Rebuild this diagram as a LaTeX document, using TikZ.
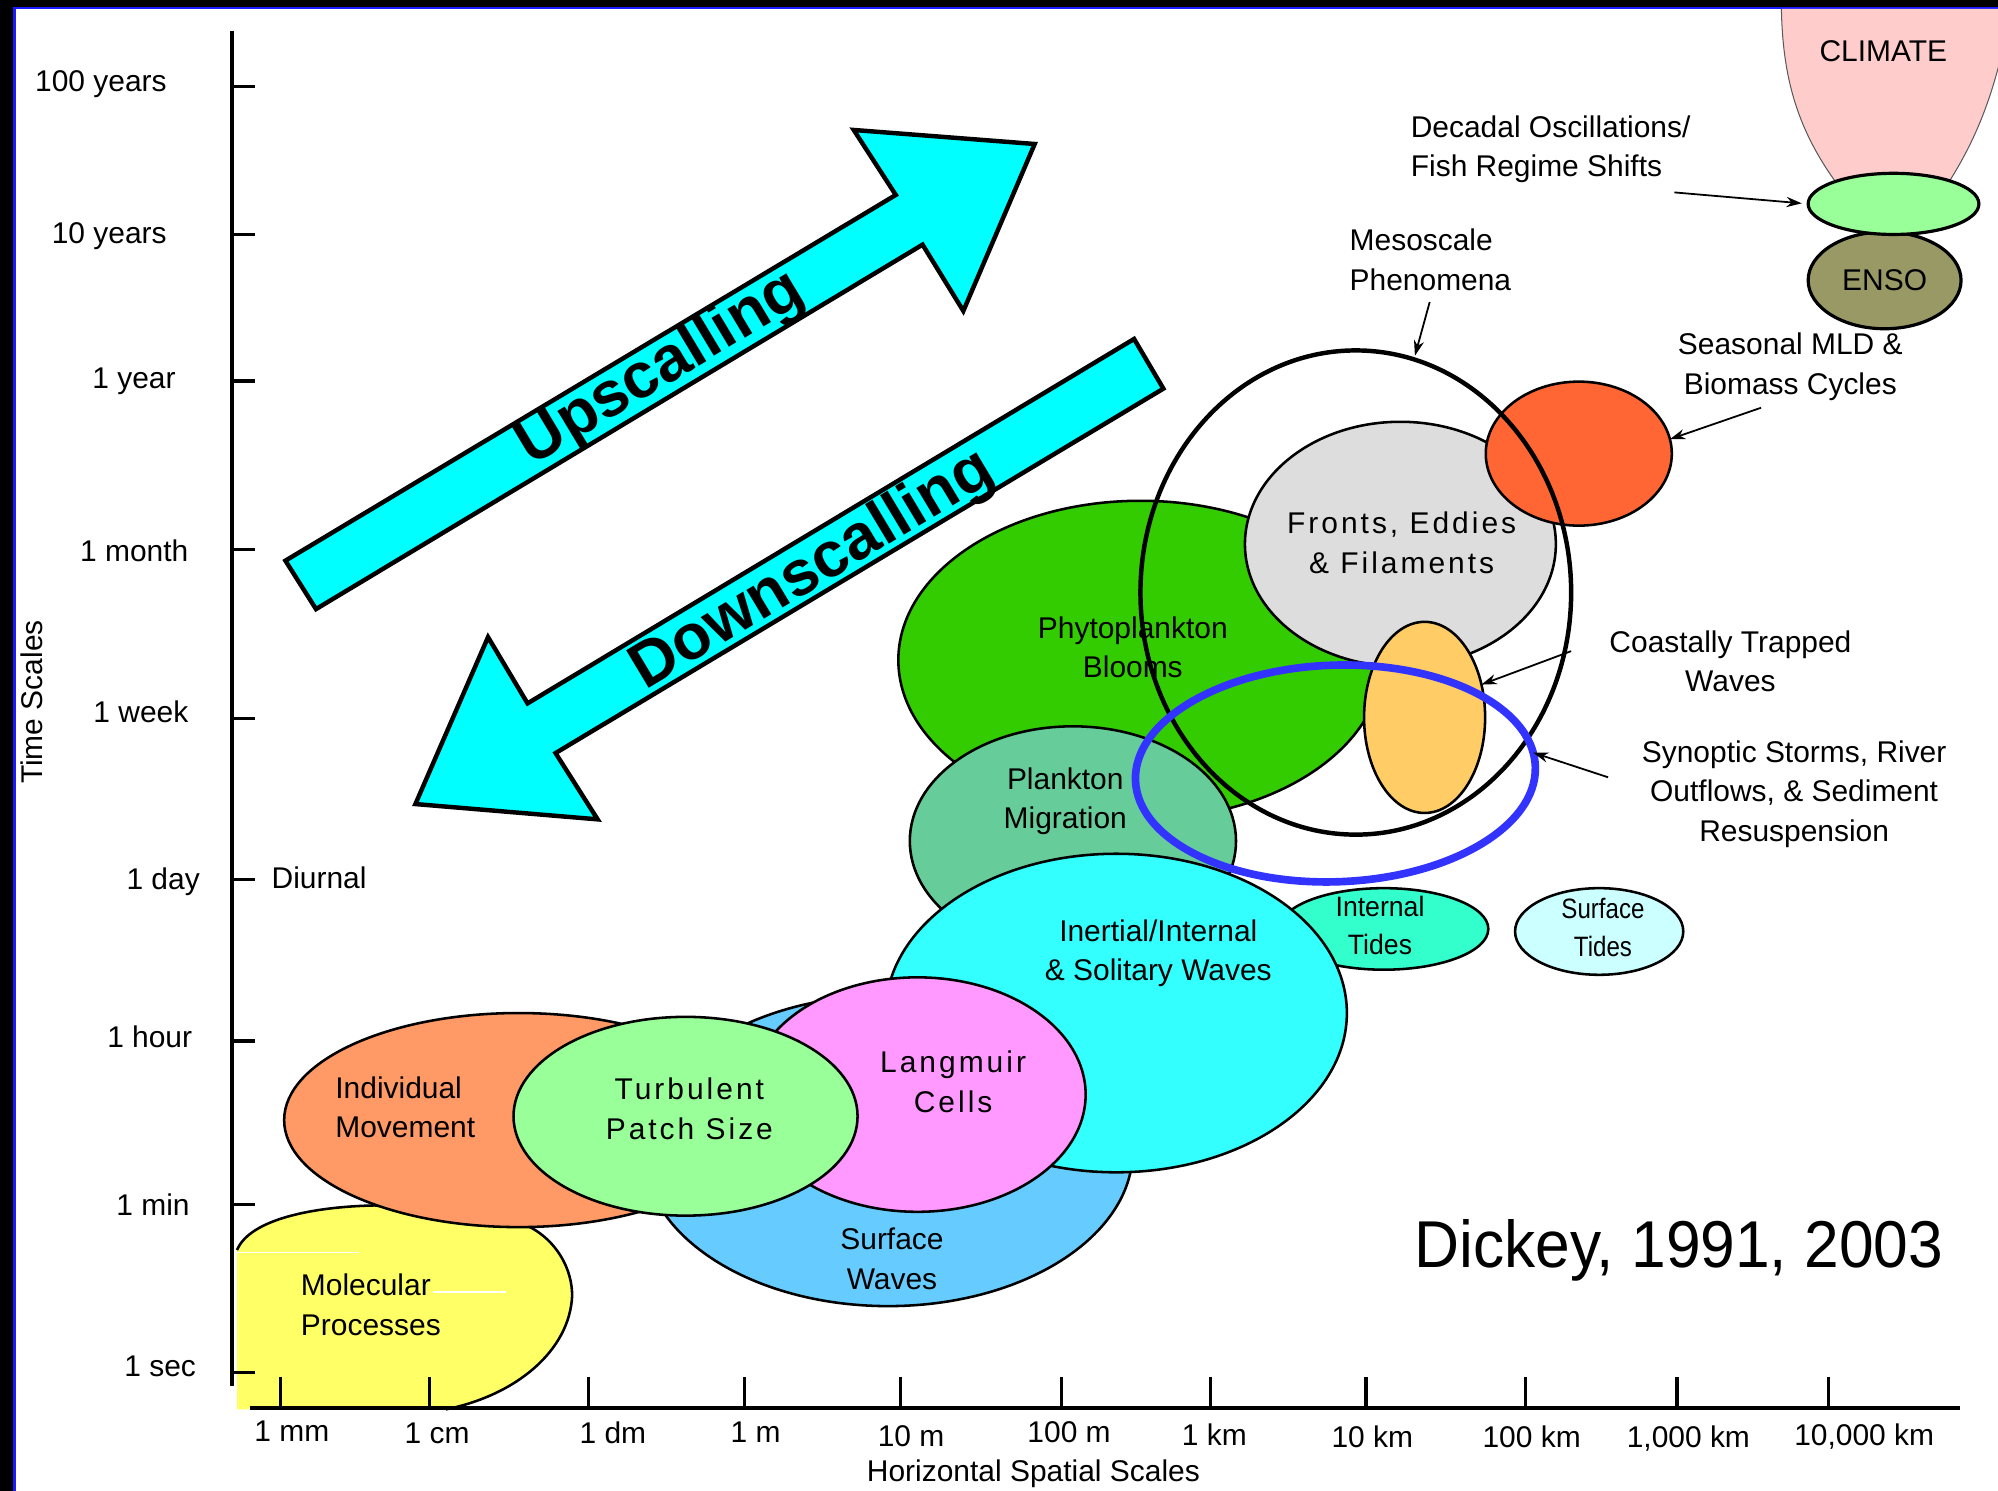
\documentclass[tikz,border=0pt]{standalone}
\usepackage{fontspec}
\setmainfont{Liberation Sans}
\newfontfamily\spacedfont[LetterSpace=10]{Liberation Sans}
\usetikzlibrary{shapes.geometric,arrows.meta}
\definecolor{cYel}{HTML}{FFFF66}
\definecolor{cInd}{HTML}{FF9966}
\definecolor{cTurb}{HTML}{99FF99}
\definecolor{cLang}{HTML}{FF99FF}
\definecolor{cSW}{HTML}{66CCFF}
\definecolor{cIner}{HTML}{33FFFF}
\definecolor{cMig}{HTML}{66CC99}
\definecolor{cPhy}{HTML}{33CC00}
\definecolor{cFront}{HTML}{DDDDDD}
\definecolor{cSeas}{HTML}{FF6633}
\definecolor{cCoast}{HTML}{FFCC66}
\definecolor{cRing}{HTML}{3333FF}
\definecolor{cIT}{HTML}{33FFCC}
\definecolor{cST}{HTML}{CCFFFF}
\definecolor{cClim}{HTML}{FFCCCC}
\definecolor{cEnso}{HTML}{999966}
\definecolor{cArr}{HTML}{00FFFF}
\definecolor{cFrame}{HTML}{1A1AFF}
\begin{document}
\begin{tikzpicture}[x=1pt,y=-1pt,
  blob/.style={ellipse, draw=black, line width=2pt, inner sep=0pt, outer sep=0pt},
  txt/.style={font=\fontsize{23.5}{31}\selectfont, align=center, inner sep=0pt},
  ltxt/.style={txt, align=left},
  sptxt/.style={font=\spacedfont\fontsize{23.5}{31}\selectfont, align=center, inner sep=0pt},
  ticktxt/.style={font=\fontsize{23.5}{31}\selectfont, inner sep=0pt},
  tickline/.style={line width=2.5pt},
  axisline/.style={line width=2.8pt},
  bigarrow/.style={fill=cArr, draw=black, line width=3.5pt, line join=miter},
  arrtxt/.style={font=\bfseries\fontsize{50}{50}\selectfont, inner sep=0pt},
  callout/.style={line width=1.4pt, -{Stealth[length=12pt,width=8pt]}}]
\fill[white] (0,0) rectangle (1568,1170);
\useasboundingbox (0,0) rectangle (1568,1170);
% frame
\fill[black] (0,0) rectangle (10.5,1170);
\fill[black] (0,0) rectangle (1568,5.3);
\fill[cFrame] (10.5,5.3) rectangle (12.3,1170);
\fill[cFrame] (10.5,5.3) rectangle (1568,7);

% CLIMATE
\fill[cClim] (1398,7) .. controls (1399,60) and (1410,100) .. (1440,142) -- (1530,142) .. controls (1550,110) and (1562,80) .. (1572,38) -- (1572,7) -- cycle;
\draw[line width=0.8pt, black!65] (1398,7) .. controls (1399,60) and (1410,100) .. (1440,142);
\draw[line width=0.8pt, black!65] (1530,142) .. controls (1550,110) and (1562,80) .. (1572,38);
\node[txt] (climate) at (1478,40) {CLIMATE};
\node[blob, fill=cEnso, line width=2.5pt, minimum width=120pt, minimum height=76pt, font=\fontsize{23.5}{31}\selectfont] (enso) at (1479,220) {ENSO};
\node[blob, fill=cTurb, line width=2.5pt, minimum width=134pt, minimum height=48pt] (decadal) at (1486,160) {};

% Molecular processes
\fill[cYel] (186,1106) -- (186,981) .. controls (196,957) and (245,947) .. (294,946) -- (403,958) .. controls (430,965) and (449,990) .. (449,1017) .. controls (447,1060) and (405,1095) .. (350,1106) -- cycle;
\draw[line width=2pt] (186,981) .. controls (196,957) and (245,947) .. (294,946) -- (403,958) .. controls (430,965) and (449,990) .. (449,1017) .. controls (447,1060) and (405,1095) .. (350,1106);
\draw[white, line width=1pt] (186,983) -- (282,983);
\draw[white, line width=1pt] (340,1014) -- (397,1014);

% ellipses
\node[blob, fill=cIT, minimum width=164pt, minimum height=64pt] (itides) at (1086,729) {};
\node[blob, fill=cST, minimum width=132pt, minimum height=68pt] (stides) at (1255,731) {};
\node[blob, fill=cPhy, minimum width=380pt, minimum height=250pt] (phyto) at (895,518) {};
\node[blob, fill=cFront, minimum width=244pt, minimum height=192pt] (fronts) at (1099,427) {};
\node[blob, fill=cSeas, minimum width=146pt, minimum height=113pt] (seas) at (1239,356) {};
\node[blob, fill=cCoast, minimum width=95pt, minimum height=150pt] (coast) at (1118,563) {};
\node[blob, fill=cMig, minimum width=256pt, minimum height=180pt] (migr) at (842,660) {};
\node[blob, fill=cSW, minimum width=384pt, minimum height=244pt] (swaves) at (697,903) {};
\node[blob, fill=cIner, minimum width=362pt, minimum height=250pt] (inert) at (876,795) {};
\node[blob, fill=cLang, minimum width=264pt, minimum height=184pt] (lang) at (720,859) {};
\node[blob, fill=cInd, minimum width=368pt, minimum height=168pt] (indiv) at (407,879) {};
\node[blob, fill=cTurb, minimum width=270pt, minimum height=156pt] (turb) at (538,876) {};

% labels inside
\node[ltxt, anchor=west] (molt) at (236,1024) {Molecular\\Processes};
\node[ltxt, anchor=west] (indt) at (263,869) {Individual\\Movement};
\node[sptxt] (turbt) at (541,870) {Turbulent\\Patch Size};
\node[sptxt] (langt) at (748,849) {Langmuir\\Cells};
\node[txt] (swt) at (700,988) {Surface\\Waves};
\node[txt] (inertt) at (909,748) {Inertial/Internal\\\& Solitary Waves};
\node[txt] (migt) at (836,629) {Plankton\\Migration};
\node[txt] (phytot) at (889,508) {Phytoplankton\\Blooms};
\node[sptxt] (frontt) at (1100,426) {Fronts, Eddies\\\& Filaments};
\node[txt, font=\fontsize{22}{30}\selectfont, xscale=0.95] (itt) at (1083,726) {Internal\\Tides};
\node[txt, font=\fontsize{22}{30}\selectfont, xscale=0.86] (stt) at (1258,728) {Surface\\Tides};

% mesoscale and synoptic rings
\node[ellipse, draw=black, line width=3.5pt, inner sep=0pt, outer sep=0pt, minimum width=338pt, minimum height=380pt] (meso) at (1064,465) {};
\node[ellipse, draw=cRing, line width=6pt, inner sep=0pt, outer sep=0pt, minimum width=314pt, minimum height=170pt, rotate=2] (ring) at (1048,607) {};

% callout labels
\node[ltxt, anchor=west] (dect) at (1107,117) {Decadal Oscillations/\\Fish Regime Shifts};
\node[ltxt, anchor=west] (mesot) at (1059,204) {Mesoscale\\Phenomena};
\node[txt] (seast) at (1405,288) {Seasonal MLD \&\\Biomass Cycles};
\node[txt] (coastt) at (1358,519) {Coastally Trapped\\Waves};
\node[txt] (synt) at (1408,623) {Synoptic Storms, River\\Outflows, \& Sediment\\Resuspension};
\coordinate (decA) at (1314,151);
\coordinate (mesoA) at (1122,237);
\coordinate (seasA) at (1382,320);
\coordinate (coastA) at (1233,511);
\coordinate (synA) at (1262,610);
\draw[callout, shorten >=5pt] (decA) -- (decadal.west);
\draw[callout, shorten >=3pt] (mesoA) -- (meso.76);
\draw[callout] (seasA) -- (seas.9);
\draw[callout] (coastA) -- (coast.30);
\draw[callout] (synA) -- (ring.4);

% big arrows
\draw[bigarrow] (224,440) -- (703,153) -- (670,102) -- (812,113) -- (756,244) -- (724,192) -- (248,478) -- cycle;
\node[arrtxt, rotate=31] (upt) at (519,290) {Upscalling};
\draw[bigarrow] (890,266) -- (913,305) -- (436,591) -- (469,643) -- (326,631) -- (383,500) -- (414,552) -- cycle;
\node[arrtxt, rotate=31] (downt) at (638,448) {Downscalling};

% axes
\draw[axisline] (182,24) -- (182,1088);
\draw[axisline] (196,1105) -- (1538,1105);
\foreach \yy in {68,184,299,431,564,690,817,945,1077}
  \draw[tickline] (182,\yy) -- (200,\yy);
\foreach \xx in {220,337,462,584,707,833,950,1072,1197,1316,1435}
  \draw[tickline] (\xx,1105) -- (\xx,1081);
\node[ticktxt, anchor=base east] (y1) at (131,72) {100 years};
\node[ticktxt, anchor=base east] (y2) at (131,191) {10 years};
\node[ticktxt, anchor=base east] (y3) at (138,305) {1 year};
\node[ticktxt, anchor=base east] (y4) at (148,441) {1 month};
\node[ticktxt, anchor=base east] (y5) at (148,567) {1 week};
\node[ticktxt, anchor=base east] (y6) at (157,698) {1 day};
\node[ticktxt, anchor=base east] (y7) at (151,822) {1 hour};
\node[ticktxt, anchor=base east] (y8) at (149,954) {1 min};
\node[ticktxt, anchor=base east] (y9) at (154,1080) {1 sec};
\node[ticktxt, anchor=base west] (diur) at (213,697) {Diurnal};
\node[ticktxt, rotate=90] (ylab) at (25,551) {Time Scales};
\node[ticktxt, anchor=base] (x1) at (229,1131) {1 mm};
\node[ticktxt, anchor=base] (x2) at (343,1133) {1 cm};
\node[ticktxt, anchor=base] (x3) at (481,1133) {1 dm};
\node[ticktxt, anchor=base] (x4) at (593,1132) {1 m};
\node[ticktxt, anchor=base] (x5) at (715,1135) {10 m};
\node[ticktxt, anchor=base] (x6) at (839,1132) {100 m};
\node[ticktxt, anchor=base] (x7) at (953,1134) {1 km};
\node[ticktxt, anchor=base] (x8) at (1077,1136) {10 km};
\node[ticktxt, anchor=base] (x9) at (1202,1136) {100 km};
\node[ticktxt, anchor=base] (x10) at (1325,1136) {1,000 km};
\node[ticktxt, anchor=base] (x11) at (1463,1134) {10,000 km};
\node[ticktxt, anchor=base] (xlab) at (811,1163) {Horizontal Spatial Scales};
\node[font=\fontsize{52}{52}\selectfont, inner sep=0pt, anchor=base west, xscale=0.94] (cite) at (1110,995) {Dickey, 1991, 2003};
\end{tikzpicture}
\end{document}
